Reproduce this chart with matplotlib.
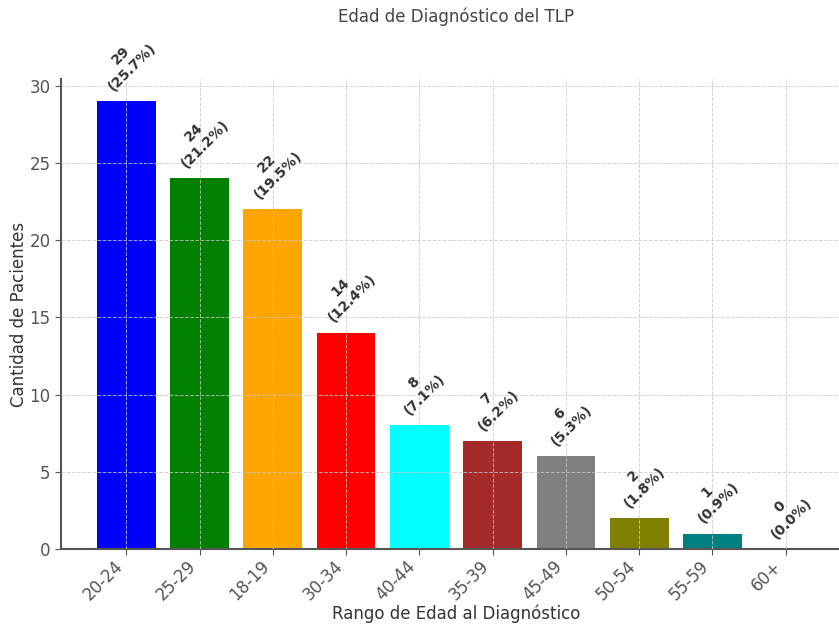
import numpy as np
import matplotlib.pyplot as plt

# Age-at-diagnosis groups, ordered by patient count
age_ranges = ['20-24', '25-29', '18-19', '30-34', '40-44', '35-39', '45-49', '50-54', '55-59', '60+']
patients = [29, 24, 22, 14, 8, 7, 6, 2, 1, 0]
percentages = [25.7, 21.2, 19.5, 12.4, 7.1, 6.2, 5.3, 1.8, 0.9, 0.0]
bar_colors = ['blue', 'green', 'orange', 'red', 'cyan', 'brown', 'gray', 'olive', 'teal', 'purple']

TEXT_COLOR = '#333333'
SPINE_COLOR = '#555555'

fig = plt.figure(figsize=(8.39, 6.26), dpi=100)
# axes run a little past the right edge of the canvas
ax = fig.add_axes([0.0727, 0.123, 0.9416, 0.751])

x = np.arange(len(age_ranges))
bars = ax.bar(x, patients, color=bar_colors, width=0.8)

for bar, count, pct in zip(bars, patients, percentages):
    ax.text(bar.get_x() + bar.get_width() / 2, bar.get_height() + 0.5,
            f'{count}\n({pct:.1f}%)', ha='center', va='bottom', rotation=45,
            fontsize=10, fontweight='bold', color=TEXT_COLOR)

ax.set_xticks(x)
ax.set_xticklabels(age_ranges, rotation=45, ha='right', fontsize=12, color=TEXT_COLOR)
ax.set_yticks(range(0, 31, 5))
ax.tick_params(axis='y', labelsize=12, labelcolor=TEXT_COLOR)
ax.tick_params(colors=SPINE_COLOR, length=4)
ax.tick_params(axis='x', pad=2)

ax.set_title('Edad de Diagnóstico del TLP', fontsize=12, color='#444444', pad=41)
ax.set_xlabel('Rango de Edad al Diagnóstico', fontsize=12, color=TEXT_COLOR, labelpad=0)
ax.set_ylabel('Cantidad de Pacientes', fontsize=12, color=TEXT_COLOR, labelpad=1)

ax.grid(True, linestyle='--', color='#c8c8c8', linewidth=0.7, alpha=0.8)
ax.set_axisbelow(False)

ax.spines['top'].set_visible(False)
ax.spines['right'].set_visible(False)
for side in ['left', 'bottom']:
    ax.spines[side].set_color(SPINE_COLOR)
    ax.spines[side].set_linewidth(1.5)

fig.savefig('out.png', dpi=100)
